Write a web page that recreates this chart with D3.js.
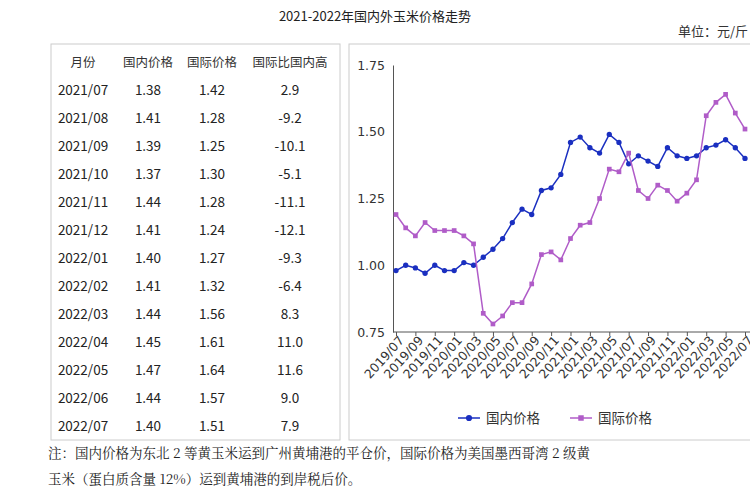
<!DOCTYPE html>
<html><head><meta charset="utf-8">
<script src="https://cdn.jsdelivr.net/npm/d3@7"></script>
<style>body{margin:0;background:#fff;font-family:"Noto Sans CJK SC","DejaVu Sans",sans-serif}</style>
</head><body><svg id="c" width="750" height="500"></svg>
<script>
// monthly prices 2019/07 .. 2022/07 (元/斤)
const months = d3.range(37).map(i => {
  const y = 2019 + Math.floor((6 + i) / 12), m = (6 + i) % 12 + 1;
  return y + '/' + String(m).padStart(2, '0');
});
const domestic = [0.98,1.00,0.99,0.97,1.00,0.98,0.98,1.01,1.00,1.03,1.06,1.10,1.16,1.21,1.19,1.28,1.29,1.34,1.46,1.48,1.44,1.42,1.49,1.46,
  1.38,1.41,1.39,1.37,1.44,1.41,1.40,1.41,1.44,1.45,1.47,1.44,1.40];
const intl = [1.19,1.14,1.11,1.16,1.13,1.13,1.13,1.11,1.08,0.82,0.78,0.81,0.86,0.86,0.93,1.04,1.05,1.02,1.10,1.15,1.16,1.25,1.36,1.35,
  1.42,1.28,1.25,1.30,1.28,1.24,1.27,1.32,1.56,1.61,1.64,1.57,1.51];
const tableHead = ['月份','国内价格','国际价格','国际比国内高'];
const tableMonths = months.slice(24);
const tableRatio = ['2.9','-9.2','-10.1','-5.1','-11.1','-12.1','-9.3','-6.4','8.3','11.0','11.6','9.0','7.9'];
const yTicks = [0.75, 1.00, 1.25, 1.50, 1.75];

const svg = d3.select('#c');
svg.append('text').attr('x', 375).attr('y', 21).attr('text-anchor', 'middle')
  .attr('font-size', 13).attr('fill', '#222').text('2021-2022年国内外玉米价格走势');
svg.append('text').attr('x', 748).attr('y', 36).attr('text-anchor', 'end')
  .attr('font-size', 13).attr('fill', '#333').text('单位：元/斤');

// table
svg.append('rect').attr('x', 51).attr('y', 44).attr('width', 289).attr('height', 396)
  .attr('fill', 'none').attr('stroke', '#ccc');
const colX = [83, 148, 212, 290];
tableHead.forEach((h, i) => svg.append('text').attr('x', colX[i]).attr('y', 67)
  .attr('text-anchor', 'middle').attr('font-size', 12.5).attr('fill', '#333').text(h));
tableMonths.forEach((m, r) => {
  const y = 95 + r * 28;
  const row = [m, domestic[24 + r].toFixed(2), intl[24 + r].toFixed(2), tableRatio[r]];
  row.forEach((v, i) => svg.append('text').attr('x', colX[i]).attr('y', y)
    .attr('text-anchor', 'middle').attr('font-size', 13.5).attr('fill', '#222').text(v));
});

// chart
svg.append('rect').attr('x', 349).attr('y', 44).attr('width', 410).attr('height', 396)
  .attr('fill', 'none').attr('stroke', '#ccc');
const x = d3.scalePoint().domain(months).range([396, 745]);
const y = d3.scaleLinear().domain([0.75, 1.75]).range([332, 65]);
const g = svg.append('g');
const ya = g.append('g').attr('transform', 'translate(393,0)')
  .call(d3.axisLeft(y).tickValues(yTicks).tickFormat(d3.format('.2f')).tickSize(0).tickPadding(8));
ya.select('.domain').attr('stroke', '#555');
ya.selectAll('text').attr('font-size', 12.5).attr('fill', '#333').attr('font-family', 'DejaVu Sans');
const xa = g.append('g').attr('transform', 'translate(0,332)')
  .call(d3.axisBottom(x).tickValues(months.filter((d, i) => i % 2 === 0)).tickSize(4));
xa.select('.domain').attr('d', 'M393,0H750').attr('stroke', '#555');
xa.selectAll('line').attr('stroke', '#555');
xa.selectAll('text').attr('font-size', 12.5).attr('fill', '#333').attr('font-family', 'DejaVu Sans')
  .attr('text-anchor', 'end').attr('transform', 'translate(5,6) rotate(-48)').attr('dy', '0.35em').attr('y', 0);

const series = [
  { name: '国内价格', data: domestic, color: '#1a2fc0', shape: 'circle' },
  { name: '国际价格', data: intl, color: '#b05cc8', shape: 'square' }
];
series.forEach(s => {
  g.append('path').datum(s.data).attr('fill', 'none').attr('stroke', s.color).attr('stroke-width', 1.5)
    .attr('d', d3.line().x((d, i) => x(months[i])).y(d => y(d)));
  g.selectAll(null).data(s.data).join('path')
    .attr('transform', (d, i) => `translate(${x(months[i])},${y(d)})`)
    .attr('fill', s.color)
    .attr('d', d3.symbol(s.shape === 'circle' ? d3.symbolCircle : d3.symbolSquare, 22));
});

// legend
series.forEach((s, i) => {
  const lx = 458 + i * 112, ly = 418;
  svg.append('line').attr('x1', lx).attr('x2', lx + 22).attr('y1', ly).attr('y2', ly)
    .attr('stroke', s.color).attr('stroke-width', 1.5);
  svg.append('path').attr('transform', `translate(${lx + 11},${ly})`).attr('fill', s.color)
    .attr('d', d3.symbol(s.shape === 'circle' ? d3.symbolCircle : d3.symbolSquare, 30));
  svg.append('text').attr('x', lx + 28).attr('y', ly + 5).attr('font-size', 13.5).attr('fill', '#333').text(s.name);
});

// footnote
const notes = ['注：国内价格为东北 2 等黄玉米运到广州黄埔港的平仓价，国际价格为美国墨西哥湾 2 级黄',
  '玉米（蛋白质含量 12%）运到黄埔港的到岸税后价。'];
notes.forEach((t, i) => svg.append('text').attr('x', 48).attr('y', 458 + i * 26)
  .attr('font-size', 13.5).attr('fill', '#222').attr('font-family', '"Noto Serif CJK SC","Noto Sans CJK SC",serif').text(t));
</script></body></html>
